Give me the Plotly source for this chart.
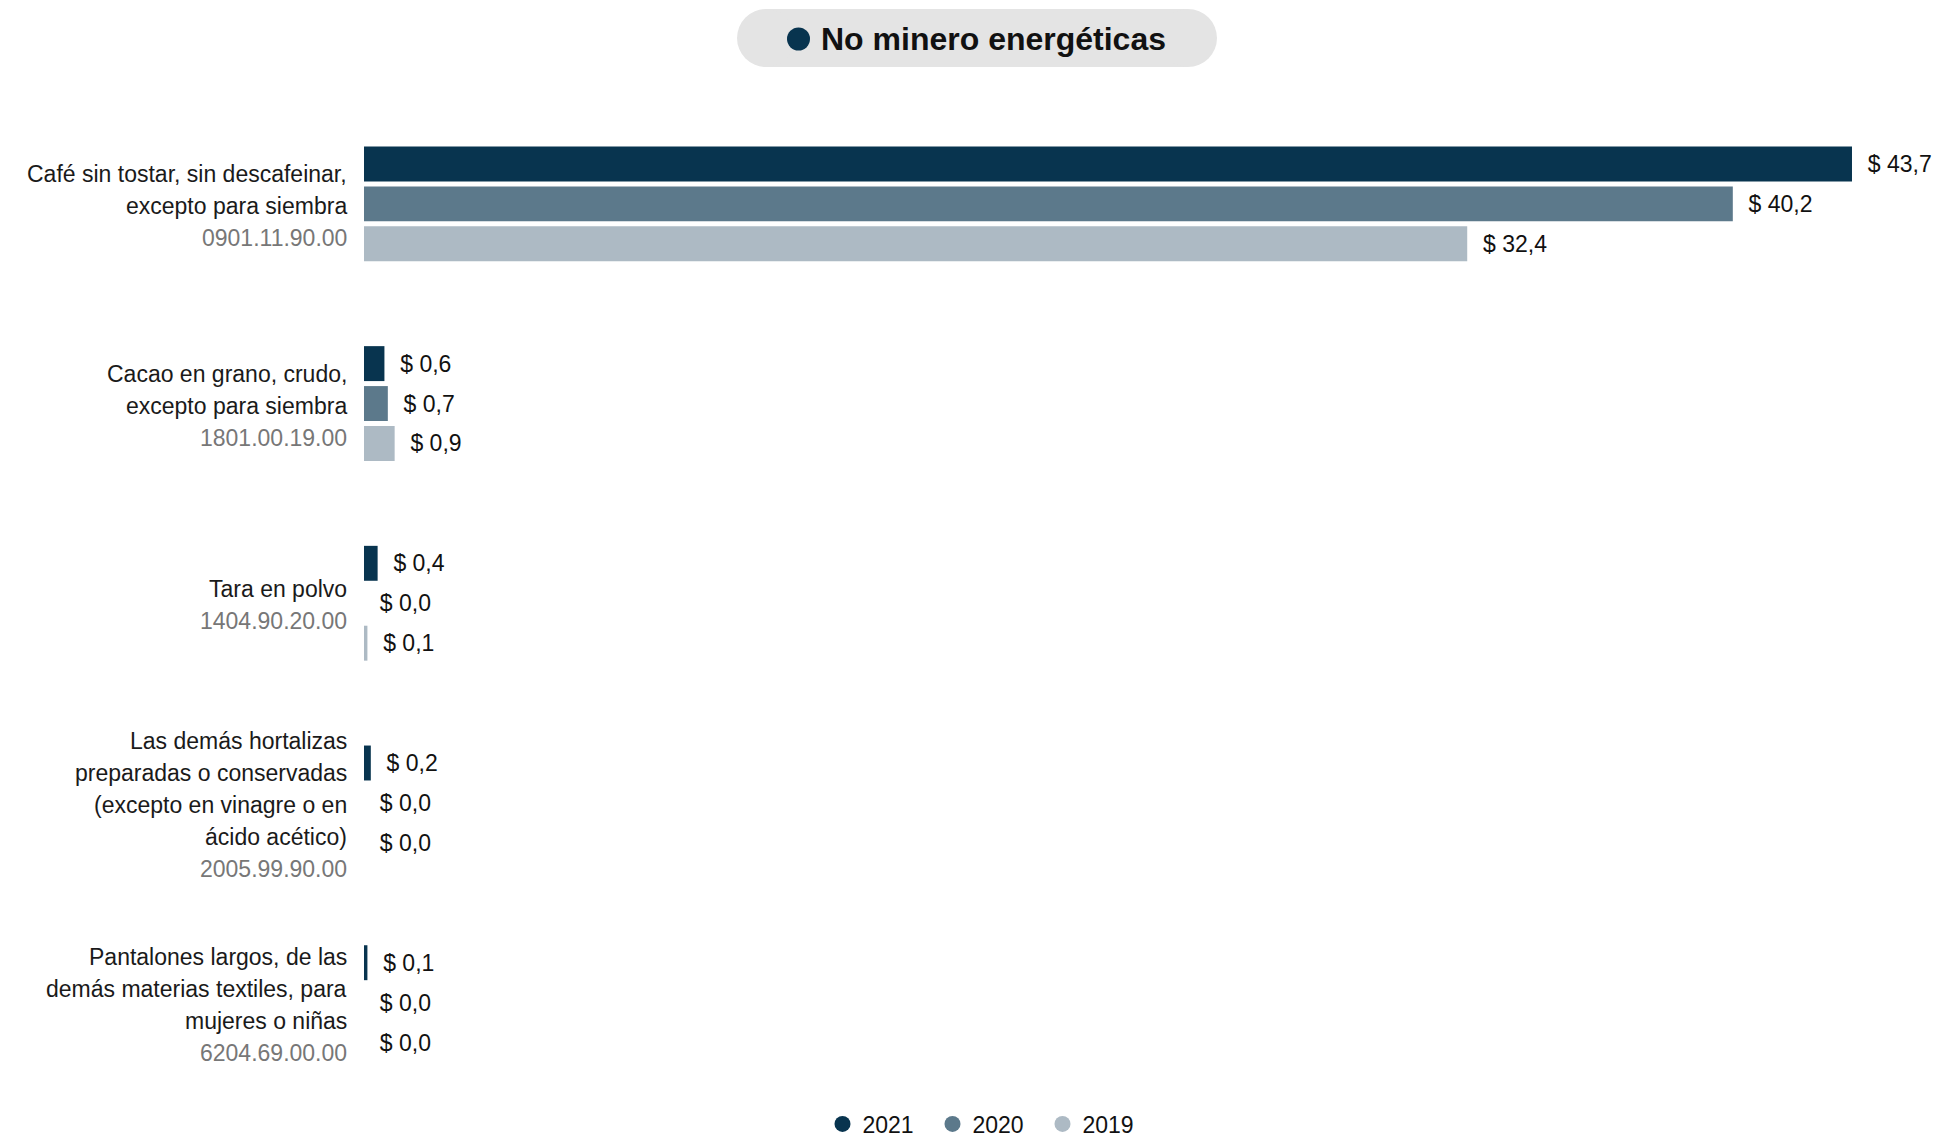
import plotly.graph_objects as go

# ---------------- data ----------------
codes = ["0901.11.90.00", "1801.00.19.00", "1404.90.20.00", "2005.99.90.00", "6204.69.00.00"]
label_lines = [
    ["Café sin tostar, sin descafeinar,", "excepto para siembra"],
    ["Cacao en grano, crudo,", "excepto para siembra"],
    ["Tara en polvo"],
    ["Las demás hortalizas", "preparadas o conservadas", "(excepto en vinagre o en", "ácido acético)"],
    ["Pantalones largos, de las", "demás materias textiles, para", "mujeres o niñas"],
]
years = ["2021", "2020", "2019"]
values_2021 = [43.7, 0.6, 0.4, 0.2, 0.1]
values_2020 = [40.2, 0.7, 0.0, 0.0, 0.0]
values_2019 = [32.4, 0.9, 0.1, 0.0, 0.0]
series = [values_2021, values_2020, values_2019]
colors = ["#08344F", "#5C798B", "#ADBAC4"]
title_text = "No minero energéticas"

# ---------------- layout constants ----------------
W, H = 1935, 1137
ML, MR, MT, MB = 364, 0, 104, 33
PW = W - ML - MR
FONT = "Liberation Sans, Arial, Helvetica, sans-serif"
FS = 23

fig = go.Figure()

for yr, vals, col in zip(years, series, colors):
    fig.add_trace(go.Bar(
        x=vals, y=codes, orientation="h", name=yr,
        marker=dict(color=col, line=dict(width=0)),
        texttemplate="\u00a0\u00a0$ %{x:.1f}", textposition="outside",
        textfont=dict(size=FS, color="#111111", family=FONT),
        constraintext="none", cliponaxis=False, showlegend=False,
        hoverinfo="x+y",
    ))

# legend entries with circle symbols
for yr, col in zip(years, colors):
    fig.add_trace(go.Scatter(
        x=[None], y=[None], mode="markers", name=yr,
        marker=dict(color=col, size=16, symbol="circle"),
        showlegend=True,
    ))

annotations = []
LINE = 32
for code, lines in zip(codes, label_lines):
    all_lines = [(t, "#1a1a1a") for t in lines] + [(code, "#777777")]
    n = len(all_lines)
    for i, (t, c) in enumerate(all_lines):
        annotations.append(dict(
            xref="paper", x=0, xanchor="right", xshift=-15,
            yref="y", y=code, yanchor="middle",
            yshift=-(i - (n - 1) / 2) * LINE - 2,
            text=t, showarrow=False,
            font=dict(size=FS, color=c, family=FONT),
        ))

def px_to_paper_x(px):
    return (px - ML) / PW

# title text
annotations.append(dict(
    xref="paper", x=px_to_paper_x(819), xanchor="left",
    yref="paper", y=1, yanchor="middle", yshift=MT - 39,
    text="<b>" + title_text + "</b>", showarrow=False,
    font=dict(size=32, color="#111111", family=FONT),
))

shapes = []
pill_col = "#E4E4E4"
shapes.append(dict(type="rect", xref="paper", yref="paper",
                   xsizemode="pixel", ysizemode="pixel", xanchor=0, yanchor=1,
                   x0=766 - ML, x1=1188 - ML, y0=MT - 9, y1=MT - 67,
                   fillcolor=pill_col, line=dict(width=0), layer="below"))
for cx in (766, 1188):
    shapes.append(dict(type="circle", xref="paper", yref="paper",
                       xsizemode="pixel", ysizemode="pixel", xanchor=0, yanchor=1,
                       x0=cx - 29 - ML, x1=cx + 29 - ML, y0=MT - 9, y1=MT - 67,
                       fillcolor=pill_col, line=dict(width=0), layer="below"))
shapes.append(dict(type="circle", xref="paper", yref="paper",
                   xsizemode="pixel", ysizemode="pixel", xanchor=0, yanchor=1,
                   x0=787 - ML, x1=810 - ML, y0=MT - 27.5, y1=MT - 50.5,
                   fillcolor=colors[0], line=dict(width=0)))

fig.update_layout(
    width=W, height=H,
    margin=dict(l=ML, r=MR, t=MT, b=MB, pad=0),
    paper_bgcolor="white", plot_bgcolor="white",
    barmode="group", bargap=0.4, bargroupgap=0.125,
    separators=",.",
    font=dict(family=FONT, size=FS, color="#111111"),
    xaxis=dict(range=[0, PW / 34.05], visible=False, fixedrange=True),
    yaxis=dict(categoryorder="array", categoryarray=codes, autorange="reversed",
               showticklabels=False, showgrid=False, zeroline=False,
               showline=False, ticks="", fixedrange=True),
    showlegend=True,
    legend=dict(orientation="h", traceorder="normal",
                xref="container", yref="container",
                x=0.5 + 20 / W, xanchor="center", y=1 - 1124 / H, yanchor="middle",
                font=dict(size=FS, color="#111111", family=FONT),
                entrywidthmode="pixels", entrywidth=65,
                itemwidth=30, bgcolor="rgba(0,0,0,0)"),
    annotations=annotations,
    shapes=shapes,
)

fig.write_html("out.html",
               config={"displayModeBar": False},
               post_script="document.body.style.margin='0px';document.body.style.overflow='hidden';")
